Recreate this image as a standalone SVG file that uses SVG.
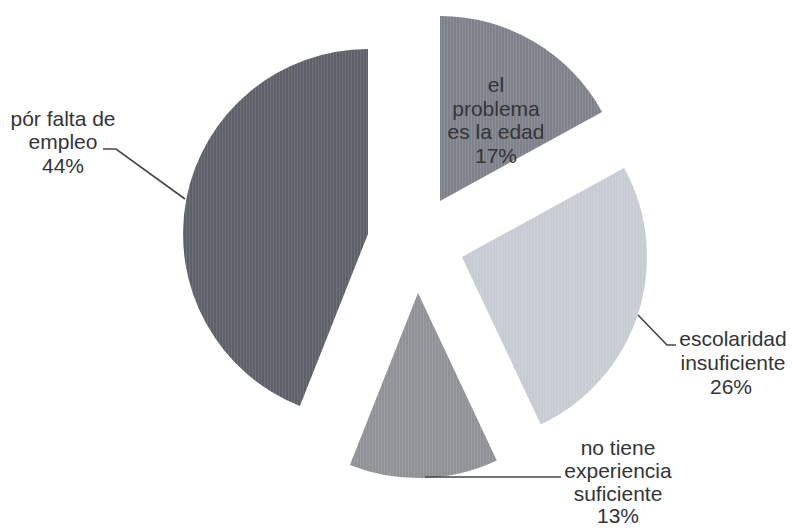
<svg xmlns="http://www.w3.org/2000/svg" width="792" height="528" viewBox="0 0 792 528">
<defs>
<pattern id="stripes" width="3" height="10" patternUnits="userSpaceOnUse">
<rect x="0" y="0" width="1" height="10" fill="#ffffff" fill-opacity="0.12"/>
</pattern>
<style>
.lbl{font-family:"Liberation Sans",Arial,sans-serif;font-size:21px;fill:#343437;text-anchor:middle}
.lead{fill:none;stroke:#454547;stroke-width:1.6}
.tex{fill:url(#stripes)}
</style>
</defs>
<rect width="792" height="528" fill="#ffffff"/>
<g id="slice-edad">
<path d="M440,201 L440,16 A185,185 0 0 1 602.1,111.9 Z" fill="#7e8189"/>
<path class="tex" d="M440,201 L440,16 A185,185 0 0 1 602.1,111.9 Z"/>
<text class="lbl" x="496" y="92">el</text>
<text class="lbl" x="496" y="116">problema</text>
<text class="lbl" x="496" y="139">es la edad</text>
<text class="lbl" x="496" y="163">17%</text>
</g>
<g id="slice-escolaridad">
<path d="M462,257 L624.1,167.9 A185,185 0 0 1 540.8,424.4 Z" fill="#c7cbd2"/>
<path class="tex" d="M462,257 L624.1,167.9 A185,185 0 0 1 540.8,424.4 Z"/>
<text class="lbl" x="733" y="346">escolaridad</text>
<text class="lbl" x="733" y="370">insuficiente</text>
<text class="lbl" x="731" y="394">26%</text>
</g>
<g id="slice-experiencia">
<path d="M418,293 L496.8,460.4 A185,185 0 0 1 349.9,465 Z" fill="#8e9196"/>
<path class="tex" d="M418,293 L496.8,460.4 A185,185 0 0 1 349.9,465 Z"/>
<text class="lbl" x="618" y="455">no tiene</text>
<text class="lbl" x="618" y="478">experiencia</text>
<text class="lbl" x="618" y="501">suficiente</text>
<text class="lbl" x="618" y="523">13%</text>
</g>
<g id="slice-empleo">
<path d="M368,234 L299.9,406 A185,185 0 0 1 368,49 Z" fill="#5d6069"/>
<path class="tex" d="M368,234 L299.9,406 A185,185 0 0 1 368,49 Z"/>
<text class="lbl" x="63" y="126">pór falta de</text>
<text class="lbl" x="63" y="149">empleo</text>
<text class="lbl" x="63" y="173">44%</text>
</g>
<g id="connectors">
<polyline class="lead" points="185,199 116,149 103,149"/>
<polyline class="lead" points="638,315 667,345 676,345"/>
<polyline class="lead" points="425,477 561,477"/>
</g>
</svg>
